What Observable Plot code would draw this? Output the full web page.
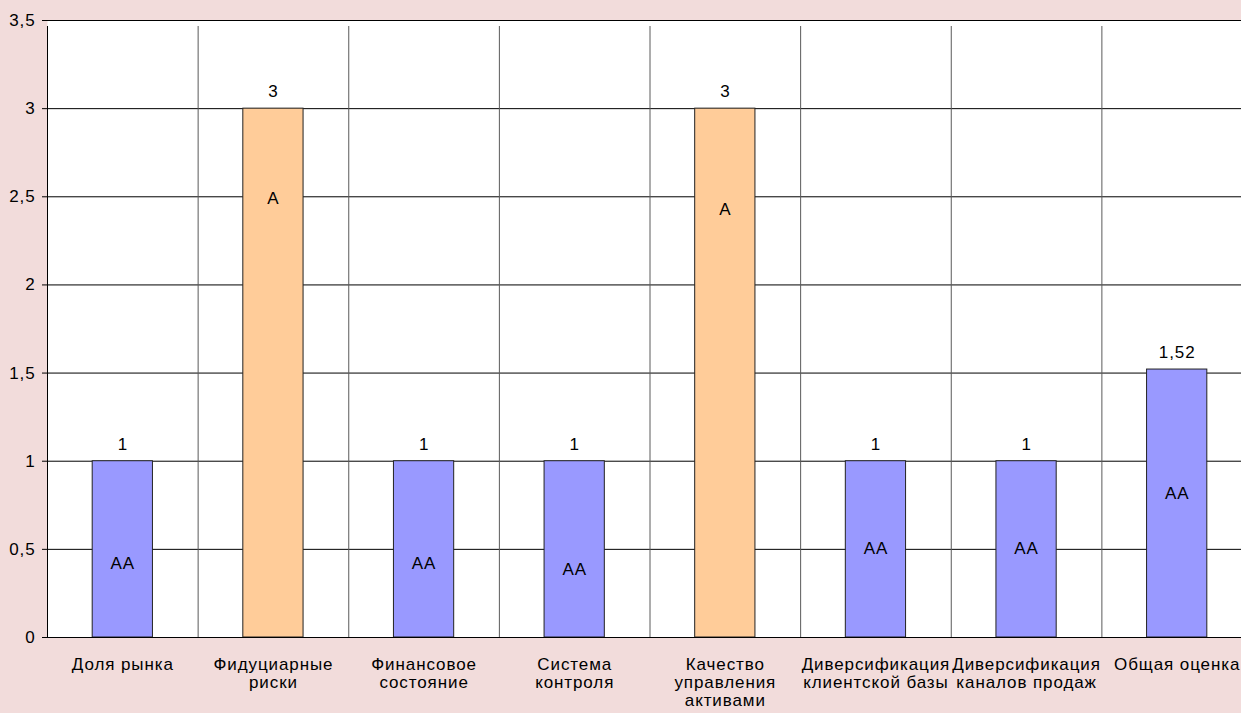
<!DOCTYPE html>
<html>
<head>
<meta charset="utf-8">
<script src="https://cdn.jsdelivr.net/npm/d3@7"></script>
<script src="https://cdn.jsdelivr.net/npm/@observablehq/plot@0.6"></script>
<style>
  html, body { margin: 0; padding: 0; background: #f2dcdb; }
</style>
</head>
<body>
<div id="chart"></div>
<script>
// ---- data ----
const categories = [
  "Доля рынка",
  "Фидуциарные\nриски",
  "Финансовое\nсостояние",
  "Система\nконтроля",
  "Качество\nуправления\nактивами",
  "Диверсификация\nклиентской базы",
  "Диверсификация\nканалов продаж",
  "Общая оценка"
];
const values = [1, 3, 1, 1, 3, 1, 1, 1.52];
const ratings = ["AA", "A", "AA", "AA", "A", "AA", "AA", "AA"];
const ratingLabelLevel = [0.42, 2.49, 0.42, 0.386, 2.43, 0.505, 0.505, 0.817];
const yTicks = [0, 0.5, 1, 1.5, 2, 2.5, 3, 3.5];
const ratingDomain = ["AA", "A"];
const ratingColors = ["#9999ff", "#ffcc99"];

const data = categories.map((c, i) => ({
  category: c, value: values[i], rating: ratings[i], labelY: ratingLabelLevel[i]
}));

const fmt = v => String(v).replace(".", ",");

// ---- layout ----
const W = 1241, H = 713;
const mL = 47, mT = 20, mB = 76;
const step = 150.625;
const xRange = [mL, mL + step * categories.length];
const FS = 17;

const chart = Plot.plot({
  width: W,
  height: H,
  marginLeft: mL,
  marginRight: 0,
  marginTop: mT,
  marginBottom: mB,
  style: {
    background: "#f2dcdb",
    fontFamily: "'Liberation Sans', Arial, sans-serif",
    fontSize: FS + "px",
    letterSpacing: "0.9px",
    color: "#000"
  },
  x: { domain: categories, range: xRange, paddingInner: 0.6, paddingOuter: 0.3, align: 0.5, round: false, label: null },
  y: { domain: [0, 3.5], label: null },
  color: { domain: ratingDomain, range: ratingColors },
  marks: [
    Plot.frame({ fill: "white", stroke: null }),
    Plot.ruleY(yTicks.filter(v => v > 0), { stroke: "#000", strokeWidth: 1 }),
    Plot.ruleX(categories.slice(1), { x: d => d, dx: -step / 2, y1: 0, y2: 3.5, insetBottom: -6, stroke: "#5a5a5a" }),
    Plot.barY(data, { x: "category", y: "value", fill: "rating", stroke: "#222", strokeWidth: 1 }),
    Plot.text(data, { x: "category", y: "value", text: d => fmt(d.value), dy: -17, fontSize: FS, fill: "#000" }),
    Plot.text(data, { x: "category", y: "labelY", text: "rating", fontSize: FS, fill: "#000" }),
    Plot.ruleY([0], { stroke: "#000" }),
    Plot.ruleX([categories[0]], { x: d => d, dx: -step / 2, y1: 0, y2: 3.5, insetBottom: -6, stroke: "#000" }),
    Plot.axisY(yTicks, { tickSize: 5, tickPadding: 7, tickFormat: fmt, fontSize: FS, label: null }),
    Plot.axisX({ tickSize: 0, tickPadding: 20, lineHeight: 18 / FS, fontSize: FS, label: null })
  ]
});

document.getElementById("chart").appendChild(chart);
</script>
</body>
</html>
